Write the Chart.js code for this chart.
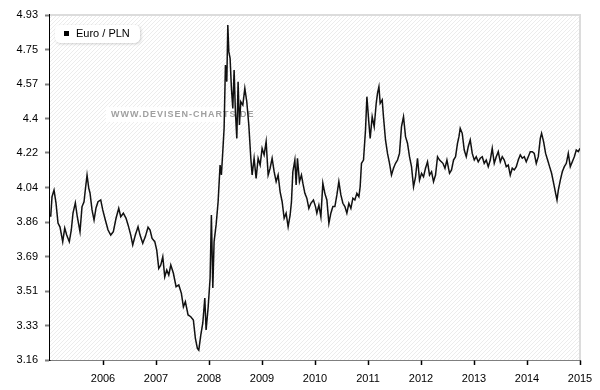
<!DOCTYPE html>
<html>
<head>
<meta charset="utf-8">
<script src="https://cdn.jsdelivr.net/npm/chart.js@4/dist/chart.umd.min.js"></script>
<style>
  html, body { margin: 0; padding: 0; background: #fff; }
  #wrap { width: 600px; height: 390px; position: relative; }
</style>
</head>
<body>
<div id="wrap"><canvas id="kurs"></canvas></div>
<script>
// Euro / PLN, Datum als Dezimaljahr
var datum = [
  2005.013, 2005.038, 2005.076, 2005.113, 2005.151, 2005.189, 2005.240, 2005.278, 2005.315, 2005.364,
  2005.402, 2005.434, 2005.478, 2005.515, 2005.566, 2005.604, 2005.642, 2005.666, 2005.699, 2005.731,
  2005.755, 2005.793, 2005.831, 2005.868, 2005.906, 2005.957, 2005.995, 2006.044, 2006.095, 2006.146,
  2006.195, 2006.246, 2006.297, 2006.335, 2006.384, 2006.435, 2006.473, 2006.524, 2006.561, 2006.610,
  2006.661, 2006.699, 2006.750, 2006.799, 2006.850, 2006.888, 2006.926, 2006.977, 2007.014, 2007.052,
  2007.090, 2007.128, 2007.165, 2007.203, 2007.241, 2007.279, 2007.328, 2007.379, 2007.430, 2007.479,
  2007.517, 2007.554, 2007.605, 2007.656, 2007.705, 2007.743, 2007.781, 2007.807, 2007.845, 2007.883,
  2007.921, 2007.945, 2007.983, 2008.021, 2008.045, 2008.072, 2008.096, 2008.134, 2008.172, 2008.209,
  2008.234, 2008.260, 2008.285, 2008.310, 2008.336, 2008.355, 2008.374, 2008.398, 2008.423, 2008.449,
  2008.474, 2008.498, 2008.525, 2008.549, 2008.574, 2008.600, 2008.638, 2008.676, 2008.713, 2008.751,
  2008.789, 2008.814, 2008.851, 2008.889, 2008.927, 2008.965, 2009.002, 2009.040, 2009.078, 2009.116,
  2009.153, 2009.191, 2009.229, 2009.267, 2009.304, 2009.342, 2009.380, 2009.418, 2009.455, 2009.493,
  2009.531, 2009.556, 2009.582, 2009.620, 2009.644, 2009.669, 2009.707, 2009.744, 2009.771, 2009.809,
  2009.846, 2009.884, 2009.922, 2009.971, 2010.009, 2010.035, 2010.073, 2010.111, 2010.148, 2010.186,
  2010.224, 2010.262, 2010.299, 2010.337, 2010.375, 2010.413, 2010.450, 2010.488, 2010.526, 2010.564,
  2010.601, 2010.639, 2010.677, 2010.715, 2010.752, 2010.790, 2010.828, 2010.852, 2010.877, 2010.915,
  2010.953, 2010.979, 2011.017, 2011.041, 2011.079, 2011.117, 2011.155, 2011.179, 2011.206, 2011.230,
  2011.268, 2011.292, 2011.330, 2011.368, 2011.406, 2011.443, 2011.481, 2011.519, 2011.557, 2011.594,
  2011.632, 2011.670, 2011.708, 2011.745, 2011.783, 2011.821, 2011.859, 2011.897, 2011.934, 2011.972,
  2012.010, 2012.048, 2012.085, 2012.123, 2012.161, 2012.199, 2012.236, 2012.274, 2012.312, 2012.350,
  2012.414, 2012.452, 2012.489, 2012.538, 2012.576, 2012.614, 2012.652, 2012.689, 2012.716, 2012.740,
  2012.778, 2012.816, 2012.854, 2012.891, 2012.929, 2012.967, 2013.005, 2013.042, 2013.080, 2013.118,
  2013.156, 2013.193, 2013.231, 2013.269, 2013.307, 2013.344, 2013.382, 2013.420, 2013.458, 2013.496,
  2013.533, 2013.571, 2013.609, 2013.647, 2013.684, 2013.722, 2013.760, 2013.798, 2013.835, 2013.873,
  2013.911, 2013.949, 2013.986, 2014.024, 2014.062, 2014.100, 2014.137, 2014.175, 2014.213, 2014.251,
  2014.275, 2014.313, 2014.351, 2014.389, 2014.426, 2014.464, 2014.502, 2014.540, 2014.566, 2014.591,
  2014.629, 2014.666, 2014.704, 2014.742, 2014.779, 2014.817, 2014.855, 2014.893, 2014.930, 2014.968,
  2015.000
];

var kurs = [
  3.895, 3.998, 4.032, 3.966, 3.863, 3.842, 3.767, 3.837, 3.801, 3.767,
  3.827, 3.914, 3.966, 3.895, 3.818, 3.947, 3.972, 4.032, 4.109, 4.042,
  4.017, 3.930, 3.878, 3.940, 3.972, 3.981, 3.930, 3.878, 3.827, 3.801,
  3.818, 3.887, 3.938, 3.895, 3.913, 3.887, 3.853, 3.801, 3.750, 3.801,
  3.844, 3.801, 3.759, 3.793, 3.841, 3.827, 3.784, 3.767, 3.724, 3.630,
  3.647, 3.690, 3.587, 3.622, 3.596, 3.647, 3.605, 3.536, 3.545, 3.502,
  3.433, 3.459, 3.391, 3.382, 3.365, 3.271, 3.220, 3.211, 3.288, 3.350,
  3.478, 3.314, 3.427, 3.581, 3.904, 3.529, 3.767, 3.853, 3.972, 4.160,
  4.109, 4.229, 4.349, 4.673, 4.588, 4.879, 4.742, 4.708, 4.554, 4.451,
  4.648, 4.434, 4.297, 4.588, 4.366, 4.485, 4.468, 4.554, 4.485, 4.366,
  4.195, 4.109, 4.195, 4.092, 4.195, 4.160, 4.246, 4.212, 4.280, 4.109,
  4.144, 4.195, 4.126, 4.075, 4.109, 4.023, 3.972, 3.887, 3.913, 3.844,
  3.904, 3.972, 4.126, 4.186, 4.058, 4.195, 4.075, 4.109, 4.067, 4.015,
  3.990, 3.938, 3.964, 3.981, 3.947, 3.913, 3.955, 3.895, 4.067, 4.015,
  3.981, 3.861, 3.913, 3.947, 3.947, 4.007, 4.075, 4.007, 3.964, 3.947,
  3.913, 3.964, 3.938, 3.990, 3.981, 4.015, 3.998, 4.049, 4.169, 4.186,
  4.340, 4.511, 4.374, 4.297, 4.408, 4.357, 4.477, 4.528, 4.562, 4.477,
  4.494, 4.408, 4.289, 4.220, 4.169, 4.109, 4.144, 4.169, 4.186, 4.220,
  4.357, 4.408, 4.306, 4.272, 4.203, 4.152, 4.049, 4.100, 4.195, 4.083,
  4.118, 4.100, 4.144, 4.177, 4.109, 4.126, 4.075, 4.109, 4.203, 4.186,
  4.169, 4.144, 4.186, 4.118, 4.135, 4.186, 4.203, 4.272, 4.306, 4.349,
  4.323, 4.237, 4.203, 4.254, 4.289, 4.220, 4.186, 4.203, 4.177, 4.195,
  4.203, 4.169, 4.186, 4.152, 4.186, 4.246, 4.169, 4.203, 4.229, 4.177,
  4.203, 4.186, 4.152, 4.160, 4.109, 4.144, 4.135, 4.152, 4.186, 4.212,
  4.195, 4.203, 4.177, 4.203, 4.229, 4.229, 4.220, 4.169, 4.203, 4.297,
  4.323, 4.280, 4.220, 4.186, 4.152, 4.118, 4.067, 4.015, 3.981, 4.032,
  4.083, 4.126, 4.152, 4.169, 4.220, 4.152, 4.177, 4.203, 4.237, 4.229,
  4.246
];

var jahre = [2006, 2007, 2008, 2009, 2010, 2011, 2012, 2013, 2014, 2015];
var yWerte = [3.16, 3.337, 3.514, 3.691, 3.868, 4.045, 4.222, 4.399, 4.576, 4.753, 4.93];
var yLabels = ['3.16', '3.33', '3.51', '3.69', '3.86', '4.04', '4.22', '4.4', '4.57', '4.75', '4.93'];

var punkte = [];
for (var n = 0; n < kurs.length; n++) {
  punkte.push({ x: datum[n], y: kurs[n] });
}

// Hintergrund schraffiert + Rahmen oben/rechts + Wasserzeichen
var hintergrund = {
  id: 'hintergrund',
  beforeDatasetsDraw: function (chart) {
    var ctx = chart.ctx;
    var a = chart.chartArea;
    var p = document.createElement('canvas');
    p.width = 4; p.height = 4;
    var pc = p.getContext('2d');
    pc.fillStyle = '#ffffff';
    pc.fillRect(0, 0, 4, 4);
    pc.strokeStyle = '#ececec';
    pc.lineWidth = 1;
    pc.beginPath();
    pc.moveTo(0, 4); pc.lineTo(4, 0);
    pc.moveTo(-1, 1); pc.lineTo(1, -1);
    pc.moveTo(3, 5); pc.lineTo(5, 3);
    pc.stroke();
    ctx.save();
    ctx.fillStyle = ctx.createPattern(p, 'repeat');
    ctx.fillRect(a.left, a.top, a.right - a.left, a.bottom - a.top);
    ctx.strokeStyle = '#dcdcdc';
    ctx.lineWidth = 2;
    ctx.beginPath();
    ctx.moveTo(a.left, a.top);
    ctx.lineTo(a.right, a.top);
    ctx.lineTo(a.right, a.bottom);
    ctx.stroke();
    // Wasserzeichen
    ctx.fillStyle = '#ffffff';
    ctx.fillRect(106, 107, 146, 15);
    ctx.font = 'bold 9px "Liberation Sans", Arial, sans-serif';
    ctx.letterSpacing = '1px';
    ctx.fillStyle = '#a0a0a0';
    ctx.textBaseline = 'middle';
    ctx.textAlign = 'left';
    ctx.fillText('WWW.DEVISEN-CHARTS.DE', 111, 115);
    ctx.restore();
  },
  afterDraw: function (chart) {
    var ctx = chart.ctx;
    ctx.save();
    ctx.shadowColor = 'rgba(0,0,0,0.18)';
    ctx.shadowBlur = 3;
    ctx.shadowOffsetX = 1;
    ctx.shadowOffsetY = 1;
    ctx.fillStyle = '#ffffff';
    ctx.beginPath();
    ctx.roundRect(55, 25, 85, 18, 5);
    ctx.fill();
    ctx.restore();
    ctx.save();
    ctx.fillStyle = '#000000';
    ctx.fillRect(64, 31, 5, 5);
    ctx.font = '11px "Liberation Sans", Arial, sans-serif';
    ctx.textBaseline = 'middle';
    ctx.fillText('Euro / PLN', 76, 34);
    ctx.restore();
  }
};

var ctx = document.getElementById('kurs').getContext('2d');
var chart = new Chart(ctx, {
  type: 'line',
  data: {
    datasets: [{
      label: 'Euro / PLN',
      data: punkte,
      borderColor: '#111111',
      borderWidth: 1.5,
      pointRadius: 0,
      tension: 0,
      fill: false
    }]
  },
  options: {
    responsive: true,
    maintainAspectRatio: false,
    animation: false,
    layout: { padding: { top: 15, right: 20, left: 0, bottom: 0 } },
    plugins: {
      legend: { display: false },
      tooltip: { enabled: false }
    },
    scales: {
      x: {
        type: 'linear',
        min: 2005,
        max: 2015,
        afterBuildTicks: function (axis) {
          axis.ticks = jahre.map(function (j) { return { value: j }; });
        },
        afterFit: function (axis) { axis.height = 30; },
        ticks: {
          autoSkip: false,
          maxRotation: 0,
          padding: 7,
          color: '#000',
          font: { family: '"Liberation Sans", Arial, sans-serif', size: 11 },
          callback: function (v) { return String(v); }
        },
        grid: { drawOnChartArea: false, tickLength: 5, color: '#000', tickWidth: 1.5 },
        border: { color: '#000', width: 1.5 }
      },
      y: {
        type: 'linear',
        min: 3.16,
        max: 4.93,
        afterBuildTicks: function (axis) {
          axis.ticks = yWerte.map(function (v) { return { value: v }; });
        },
        afterFit: function (axis) { axis.width = 50; },
        ticks: {
          autoSkip: false,
          padding: 7,
          color: '#000',
          font: { family: '"Liberation Sans", Arial, sans-serif', size: 11 },
          callback: function (v, i) { return yLabels[i]; }
        },
        grid: { drawOnChartArea: false, tickLength: 5, color: '#808080', tickWidth: 2 },
        border: { color: '#000', width: 1.5 }
      }
    }
  },
  plugins: [hintergrund]
});
</script>
</body>
</html>
